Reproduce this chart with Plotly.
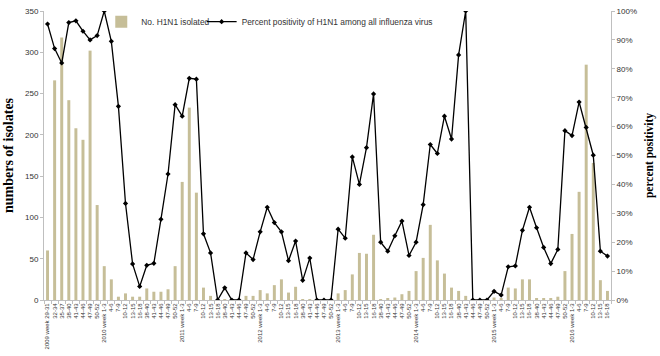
import plotly.graph_objects as go

# ---- data ----
week_labels = [
    "2009 week 29-31", "32-34", "35-37", "38-40", "41-43", "44-46", "47-49", "50-52",
    "2010 week 1-3", "4-6", "7-9", "10-12", "13-15", "16-18", "38-40", "41-43", "44-46", "47-49", "50-52",
    "2011 week 1-3", "4-6", "7-9", "10-12", "13-15", "16-18", "38-40", "41-43", "44-46", "47-49", "50-52",
    "2012 week 1-3", "4-6", "7-9", "10-12", "13-15", "16-18", "38-40", "41-43", "44-46", "47-49", "50-52",
    "2013 week 1-3", "4-6", "7-9", "10-12", "13-15", "16-18", "38-40", "41-43", "44-46", "47-49", "50-52",
    "2014 week 1-3", "4-6", "7-9", "10-12", "13-15", "16-18", "38-40", "41-43", "44-46", "47-49", "50-52",
    "2015 week 1-3", "4-6", "7-9", "10-12", "13-15", "16-18", "38-40", "41-43", "44-46", "47-49", "50-52",
    "2016 week 1-3", "4-6", "7-9", "10-12", "13-15", "16-18",
]

h1n1_isolated = [
    60, 266, 318, 242, 208, 194, 302, 115,
    41, 25, 4, 8, 4, 4, 14, 10, 10, 13, 41,
    143, 233, 130, 15, 5, 0, 1, 0, 0, 5, 5,
    12, 8, 18, 25, 9, 16, 1, 1, 0, 0, 0,
    8, 12, 31, 57, 56, 79, 1, 1.5, 3, 7, 11,
    35, 51, 91, 48, 32, 15, 11, 5, 0, 0, 0,
    3, 2, 15, 14, 25, 25, 1.5, 1.5, 2, 4, 35,
    80, 131, 285, 166, 24, 11,
]

percent_positivity = [
    95.5, 87, 82, 96, 96.6, 93, 90, 91.5,
    100, 89.5, 67, 33.4, 12.5, 4.7, 12, 12.7, 27.9, 43.6, 67.6,
    63.6, 76.7, 76.4, 22.9, 16.3, 0, 4.2, 0, 0, 16.3, 14,
    23.6, 32.1, 26.8, 23.6, 13.6, 20.4, 6.8, 14.5, 0, 0, 0,
    24.5, 21.4, 49.5, 40, 52.7, 71.3, 20, 16.9, 22.2, 27.3, 15.4,
    20, 33, 53.8, 50.7, 63.6, 55.7, 84.8, 100, 0, 0, 0,
    3, 1.7, 11.5, 11.8, 24.1, 32.1, 25, 18.2, 12.6, 17.5, 58.6,
    56.9, 68.5, 59.7, 50.1, 16.9, 15.2,
]

x_pos = list(range(len(week_labels)))

SANS = "Liberation Sans, Arial, sans-serif"
SERIF = "Liberation Serif, Times New Roman, serif"
TXT = "#333333"
AXIS = "#BFBFBF"

fig = go.Figure()
fig.add_trace(go.Bar(
    x=x_pos, y=h1n1_isolated, name="No. H1N1 isolated",
    marker=dict(color="#C6BE98", line=dict(width=0)),
    yaxis="y", legend="legend",
))
fig.add_trace(go.Scatter(
    x=x_pos, y=percent_positivity, name="Percent positivity of H1N1 among all influenza virus",
    mode="lines+markers",
    line=dict(color="black", width=1.3),
    marker=dict(symbol="diamond", size=4, color="black"),
    yaxis="y2", legend="legend2",
))

fig.update_layout(
    width=660, height=356,
    margin=dict(l=39, r=44, t=7, b=53),
    paper_bgcolor="white", plot_bgcolor="white",
    font=dict(family=SANS, color=TXT, size=8),
    bargap=0.58,
    showlegend=True,
    xaxis=dict(
        range=[-0.5, len(week_labels) - 0.5],
        tickmode="array", tickvals=x_pos, ticktext=week_labels,
        tickangle=-90, tickfont=dict(size=6, family=SANS, color=TXT),
        ticks="", showline=True, linecolor=AXIS, linewidth=1,
        showgrid=False, zeroline=False,
        minor=dict(tick0=-0.5, dtick=1, ticks="outside", ticklen=3, tickcolor=AXIS, showgrid=False),
    ),
    yaxis=dict(
        range=[0, 350], dtick=50, showgrid=False, zeroline=False,
        showline=True, linecolor=AXIS, linewidth=1,
        ticks="outside", ticklen=3, tickcolor=AXIS,
        tickfont=dict(size=8, family=SANS, color=TXT),
        title=dict(text="<b>numbers of isolates</b>", font=dict(family=SERIF, size=14, color="black"), standoff=8),
    ),
    yaxis2=dict(
        range=[0, 100], dtick=10, ticksuffix="%", overlaying="y", side="right",
        showgrid=False, zeroline=False,
        showline=True, linecolor=AXIS, linewidth=1,
        ticks="outside", ticklen=3, tickcolor=AXIS,
        tickfont=dict(size=8, family=SANS, color=TXT),
        title=dict(text="<b>percent positivity</b>", font=dict(family=SERIF, size=11.5, color="black"), standoff=8),
    ),
    legend=dict(
        x=0.101, y=0.963, xanchor="left", yanchor="middle",
        bgcolor="rgba(0,0,0,0)", font=dict(size=8.4, family=SANS, color=TXT),
        itemwidth=30,
    ),
    legend2=dict(
        x=0.278, y=0.963, xanchor="left", yanchor="middle",
        bgcolor="rgba(0,0,0,0)", font=dict(size=8.4, family=SANS, color=TXT),
        itemwidth=30,
    ),
)

fig.write_html(
    "out.html",
    config={"displayModeBar": False},
    post_script="document.body.style.margin='0';document.body.style.padding='0';",
)
